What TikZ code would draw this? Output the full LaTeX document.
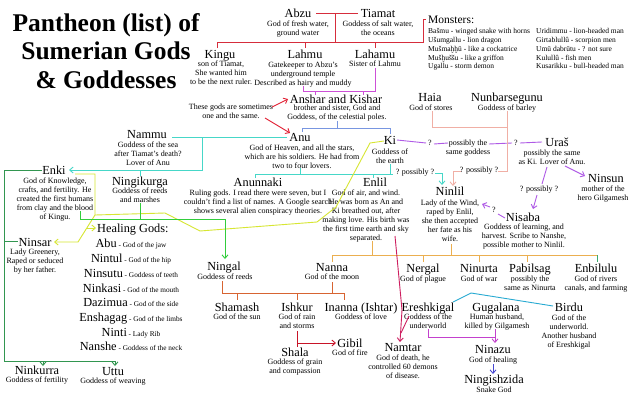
\documentclass[tikz,border=0pt]{standalone}
\usepackage{fontspec}
\setmainfont{Liberation Serif}
\usetikzlibrary{arrows.meta}
\definecolor{cred}{RGB}{214,45,60}
\definecolor{cmag}{RGB}{205,80,215}
\definecolor{cblue}{RGB}{120,150,225}
\definecolor{ccyan}{RGB}{70,215,200}
\definecolor{cyel}{RGB}{215,230,50}
\definecolor{cgreen}{RGB}{50,150,80}
\definecolor{cbgreen}{RGB}{50,205,60}
\definecolor{corange}{RGB}{235,175,80}
\definecolor{cdorange}{RGB}{215,100,50}
\definecolor{ccrim}{RGB}{205,30,95}
\definecolor{cpurple}{RGB}{175,90,230}
\definecolor{cpink}{RGB}{240,175,165}
\definecolor{cteal}{RGB}{40,170,210}
\definecolor{ctealg}{RGB}{60,170,110}
\definecolor{cnblue}{RGB}{70,70,210}
\definecolor{cnmag}{RGB}{195,65,205}
\definecolor{cnote}{RGB}{225,30,50}
\definecolor{cgibil}{RGB}{200,20,40}
\newcommand{\healent}[2]{{\fontsize{12.3}{14}\selectfont #1}{\fontsize{7.3}{9}\selectfont\ - #2}}
\begin{document}
\begin{tikzpicture}[x=1pt,y=-1pt,
  nm/.style={font=\fontsize{12.3}{14}\selectfont, inner sep=0, anchor=base},
  ds/.style={font=\fontsize{8}{9}\selectfont, inner sep=0, anchor=north, align=center},
  lbl/.style={font=\fontsize{8}{9}\selectfont, inner sep=0},
  mon/.style={font=\fontsize{7.5}{8.8}\selectfont, inner sep=0, anchor=north west, align=left},
  ln/.style={line width=0.9pt},
  arr/.style={line width=0.9pt, -{Straight Barb[length=3.5pt,width=6pt]}},
]
\useasboundingbox (0,0) rectangle (640,399);
\fill[white] (0,0) rectangle (640,399);

% title
\node[font=\fontsize{25.5}{28.5}\selectfont\bfseries, inner sep=0, anchor=north, align=center] (title) at (106,13.3)
  {Pantheon (list) of\\Sumerian Gods\\\& Goddesses};

% names
\node[nm] (abzu) at (298,17) {Abzu};
\node[nm] (tiamat) at (378,17) {Tiamat};
\node[nm] (kingu) at (220,58) {Kingu};
\node[nm] (lahmu) at (305,58) {Lahmu};
\node[nm] (lahamu) at (375,58) {Lahamu};
\node[nm] (anshar) at (336,103) {Anshar and Kishar};
\node[nm] (anu) at (300,141) {Anu};
\node[nm] (ki) at (390,144) {Ki};
\node[nm] (nammu) at (147,138) {Nammu};
\node[nm] (enki) at (54,174) {Enki};
\node[nm] (ningikurga) at (140,185) {Ningikurga};
\node[nm] (anunnaki) at (258,186) {Anunnaki};
\node[nm] (enlil) at (375,186) {Enlil};
\node[nm] (haia) at (430,101) {Haia};
\node[nm] (nunbar) at (507,101) {Nunbarsegunu};
\node[nm] (uras) at (557,146) {Uraš};
\node[nm] (ninsun) at (606,182) {Ninsun};
\node[nm] (ninlil) at (450,195) {Ninlil};
\node[nm] (nisaba) at (523,221) {Nisaba};
\node[nm] (ninsar) at (35,246) {Ninsar};
\node[nm] (ningal) at (224,270) {Ningal};
\node[nm] (nanna) at (332,271) {Nanna};
\node[nm] (nergal) at (423,272) {Nergal};
\node[nm] (ninurta) at (479,272) {Ninurta};
\node[nm] (pabilsag) at (530,272) {Pabilsag};
\node[nm] (enbilulu) at (596,272) {Enbilulu};
\node[nm] (shamash) at (237,311) {Shamash};
\node[nm] (ishkur) at (297,311) {Ishkur};
\node[nm] (inanna) at (361,311) {Inanna (Ishtar)};
\node[nm] (ereshkigal) at (428,311) {Ereshkigal};
\node[nm] (gugalana) at (496,311) {Gugalana};
\node[nm] (birdu) at (569,311) {Birdu};
\node[nm] (shala) at (295,356) {Shala};
\node[nm] (gibil) at (350,347) {Gibil};
\node[nm] (namtar) at (403,351) {Namtar};
\node[nm] (ninazu) at (493,353) {Ninazu};
\node[nm] (ningishzida) at (494,383) {Ningishzida};
\node[nm] (ninkurra) at (37,374) {Ninkurra};
\node[nm] (uttu) at (113,375) {Uttu};

% descriptions
\node[ds] (abzud) at (298,21) {God of fresh water,\\ground water};
\node[ds] (tiamatd) at (378,21) {Goddess of salt water,\\the oceans};
\node[ds] (kingud) at (221,61) {son of Tiamat,\\She wanted him\\to be the next ruler.};
\node[ds] (lahmud) at (303,62) {Gatekeeper to Abzu's\\underground temple\\Described as hairy and muddy};
\node[ds] (lahamud) at (375,61) {Sister of Lahmu};
\node[ds] (anshard) at (337,105) {brother and sister, God and\\Goddess, of the celestial poles.};
\node[ds] (anud) at (302,145) {God of Heaven, and all the stars,\\which are his soldiers. He had from\\two to four lovers.};
\node[ds] (kid) at (390,149) {Goddess of\\the earth};
\node[ds] (nammud) at (148,142) {Goddess of the sea\\after Tiamat's death?\\Lover of Anu};
\node[ds] (enkid) at (55,178) {God of Knowledge,\\crafts, and fertility. He\\created the first humans\\from clay and the blood\\of Kingu.};
\node[ds] (ningikurgad) at (140,188) {Goddess of reeds\\and marshes};
\node[ds] (anunnakid) at (258,190) {Ruling gods. I read there were seven, but I\\couldn't find a list of names. A Google search\\shows several alien conspiracy theories.};
\node[ds] (enlild) at (366,190) {God of air, and wind.\\He was born as An and\\Ki breathed out, after\\making love. His birth was\\the first time earth and sky\\separated.};
\node[ds] (haiad) at (431,105) {God of stores};
\node[ds] (nunbard) at (507,105) {Goddess of barley};
\node[ds] (urasd) at (552,150) {possibly the same\\as Ki. Lover of Anu.};
\node[ds] (ninsund) at (603,186) {mother of the\\hero Gilgamesh};
\node[ds] (ninlild) at (450,200) {Lady of the Wind,\\raped by Enlil,\\she then accepted\\her fate as his\\wife.};
\node[ds] (nisabad) at (524,224) {Goddess of learning, and\\harvest. Scribe to Nanshe,\\possible mother to Ninlil.};
\node[ds] (ninsard) at (35,249) {Lady Greenery,\\Raped or seduced\\by her father.};
\node[ds] (ningald) at (225,274) {Goddess of reeds};
\node[ds] (nannad) at (332,274) {God of the moon};
\node[ds] (nergald) at (423,276) {God of plague};
\node[ds] (ninurtad) at (479,276) {God of war};
\node[ds] (pabilsagd) at (530,276) {possibly the\\same as Ninurta};
\node[ds] (enbilulud) at (596,276) {God of rivers\\canals, and farming};
\node[ds] (shamashd) at (237,314) {God of the sun};
\node[ds] (ishkurd) at (297,314) {God of rain\\and storms};
\node[ds] (inannad) at (361,314) {Goddess of love};
\node[ds] (ereshkigald) at (428,314) {Goddess of the\\underworld};
\node[ds] (gugalanad) at (497,314) {Human husband,\\killed by Gilgamesh};
\node[ds] (birdud) at (569,315) {God of the\\underworld.\\Another husband\\of Ereshkigal};
\node[ds] (shalad) at (295,359) {Goddess of grain\\and compassion};
\node[ds] (gibild) at (350,350) {God of fire};
\node[ds] (namtard) at (403,355) {God of death, he\\controlled 60 demons\\of disease.};
\node[ds] (ninazud) at (493,357) {God of healing};
\node[ds] (ningishzidad) at (494,387) {Snake God};
\node[ds] (ninkurrad) at (37,377) {Goddess of fertility};
\node[ds] (uttud) at (113,378) {Goddess of weaving};
\node[ds] (note) at (231,104) {These gods are sometimes\\one and the same.};

% monsters
\node[font=\fontsize{11.5}{13}\selectfont, inner sep=0, anchor=base west] (monsters) at (428,23) {Monsters:};
\node[mon] (monl) at (428,28.2) {Bašmu - winged snake with horns\\Ušumgallu - lion dragon\\Mušmaḫḫū - like a cockatrice\\Mušḫuššu - like a griffon\\Ugallu - storm demon};
\node[mon] (monr) at (536,28.2) {Uridimmu - lion-headed man\\Girtablullû - scorpion men\\Umū dabrūtu - ? not sure\\Kulullû - fish men\\Kusarikku - bull-headed man};

% healing gods
\node[font=\fontsize{12.3}{14}\selectfont, inner sep=0, anchor=base west] (healing) at (97,232) {Healing Gods:};
\node[inner sep=0, anchor=base] (abu) at (131,247) {\healent{Abu}{God of the jaw}};
\node[inner sep=0, anchor=base] (nintul) at (131,262) {\healent{Nintul}{God of the hip}};
\node[inner sep=0, anchor=base] (ninsutu) at (131,277) {\healent{Ninsutu}{Goddess of teeth}};
\node[inner sep=0, anchor=base] (ninkasi) at (131,292) {\healent{Ninkasi}{God of the mouth}};
\node[inner sep=0, anchor=base] (dazimua) at (131,306) {\healent{Dazimua}{God of the side}};
\node[inner sep=0, anchor=base] (enshagag) at (131,321) {\healent{Enshagag}{God of the limbs}};
\node[inner sep=0, anchor=base] (ninti) at (131,336) {\healent{Ninti}{Lady Rib}};
\node[inner sep=0, anchor=base] (nanshe) at (131,350) {\healent{Nanshe}{Goddess of the neck}};

% question labels
\node[lbl] (q1) at (430,143) {?};
\node[ds] (samegod) at (468,140) {possibly the\\same goddess};
\node[lbl] (q2) at (516,143) {?};
\node[lbl] (cq) at (415,173) {? possibly ?};
\node[lbl] (pq) at (479,171) {? possibly ?};
\node[lbl] (uq) at (539,190) {? possibly ?};
\node[lbl] (nq) at (494,210) {?};

% red: Abzu & Tiamat
\draw[ln,cred] (316,13) -- (358,13);
\draw[ln,cred] (335,13) -- (335,42);
\draw[ln,cred] (217,48) -- (217,42) -- (423,42) -- (423,19) -- (426,19);
\draw[ln,cred] (305,42) -- (305,48);
\draw[ln,cred] (375,42) -- (375,48);
% magenta: Lahmu & Lahamu
\draw[ln,cmag] (303,86) -- (303,91) -- (375,91) -- (375,68);
\draw[ln,cmag] (315,91) -- (315,95);
\draw[ln,cmag] (363,91) -- (363,95);
% blue: Anshar & Kishar
\draw[ln,cblue] (337,121) -- (337,128);
\draw[ln,cblue] (302,132) -- (302,128) -- (390,128) -- (390,134);
% cyan: Anu
\draw[ln,ccyan] (172,137) -- (287,137);
\draw[arr,ccyan] (202,137) -- (202,170) -- (69,170);
\draw[ln,ccyan] (140,170) -- (140,176);
\draw[ln,ccyan] (300,168) -- (300,174);
\draw[ln,ccyan] (255,178) -- (255,174) -- (393,174);
\draw[ln,ccyan] (373,174) -- (373,178);
\draw[ln,ccyan] (390,164) -- (390,174);
\draw[arr,ccyan] (435,173) -- (442,173) -- (442,185);
% yellow: Enki
\draw[ln,cyel] (75,174) -- (95,174) -- (95,215) -- (165,213) -- (200,231) -- (317,222) -- (336,207) -- (370,143) -- (384,141);
\draw[arr,cyel] (95,215) -- (78,242) -- (54,242);
\draw[arr,cyel] (86,228) -- (96,228);
% green: Enki's children
\draw[ln,cgreen] (42,170) -- (4,170) -- (4,361) -- (115,361);
\draw[ln,cgreen] (4,241) -- (18,241);
\draw[arr,cgreen] (43,361) -- (43,366);
\draw[arr,cgreen] (115,361) -- (115,366);
\draw[ln,cbgreen] (80,211) -- (80,219) -- (225,219);
\draw[arr,cbgreen] (225,219) -- (225,259);
\draw[ln,cbgreen] (140,203) -- (140,219);
% orange: Enlil
\draw[ln,corange] (372,241) -- (372,255);
\draw[ln,corange] (332,262) -- (332,255) -- (597,255);
\draw[ln,corange] (451,244) -- (451,255);
\draw[ln,corange] (423,255) -- (423,262);
\draw[ln,corange] (479,255) -- (479,262);
\draw[ln,corange] (527,255) -- (527,262);
\draw[ln,ctealg] (597,255) -- (597,262);
% dark orange: Nanna & Ningal
\draw[ln,cdorange] (332,282) -- (332,293);
\draw[ln,cdorange] (222,281) -- (222,293) -- (344,293);
\draw[ln,cdorange] (237,293) -- (237,300);
\draw[ln,cdorange] (297,293) -- (297,300);
\draw[ln,cdorange] (344,293) -- (344,300);
% crimson: Namtar
\draw[arr,ccrim] (395,236) -- (402,310) -- (400,342);
\draw[ln,ccrim] (409,316) -- (401,333);
% Ereshkigal & Gugalana
\draw[ln,cnmag] (428,329) -- (428,337) -- (495,337);
\draw[arr,cnmag] (495,329) -- (495,343);
\draw[arr,cnblue] (493,364) -- (493,374);
\draw[ln,cteal] (453,302) -- (471,293) -- (553,306);
% Ishkur -> Gibil
\draw[ln,cgibil] (297,331) -- (297,347);
\draw[arr,cgibil] (297,343) -- (336,343);
% purple: Ki / Uras
\draw[ln,cpurple] (397,140) -- (426,143);
\draw[ln,cpurple] (434,144) -- (448,143);
\draw[ln,cpurple] (489,144) -- (512,143);
\draw[ln,cpurple] (520,143) -- (542,142);
\draw[arr,cpurple] (565,166) -- (585,176);
\draw[ln,cpurple] (547,167) -- (542,184);
\draw[arr,cpurple] (537,195) -- (533,209);
\draw[ln,cpurple] (505,218) -- (498,214);
\draw[arr,cpurple] (490,207) -- (482,204);
% pink: Haia & Nunbarsegunu
\draw[ln,cpink] (432,111) -- (432,127) -- (507,127);
\draw[ln,cpink] (507,111) -- (507,171) -- (498,171);
\draw[arr,cpink] (461,171) -- (453,171) -- (453,186);
% note arrows
\draw[arr,cnote] (272,107) -- (288,99);
\draw[arr,cnote] (265,118) -- (290,133);
\end{tikzpicture}
\end{document}
